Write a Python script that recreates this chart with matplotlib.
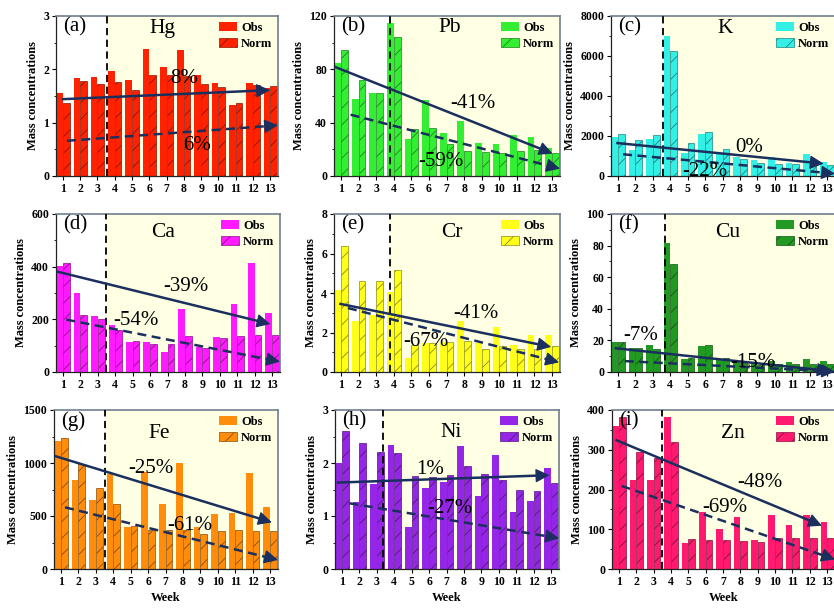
import numpy as np
import matplotlib
matplotlib.use("Agg")
import matplotlib.pyplot as plt
from matplotlib.patches import Patch
from matplotlib.ticker import MultipleLocator, AutoMinorLocator
from matplotlib.colors import to_rgb

plt.rcParams["font.family"] = ["Liberation Serif", "DejaVu Serif"]
plt.rcParams["hatch.linewidth"] = 0.6

weeks = np.arange(1, 14)

# Weekly mass concentrations: observed and normalised
hg_obs = [1.55, 1.84, 1.86, 1.97, 1.80, 2.38, 2.04, 2.36, 1.89, 1.74, 1.33, 1.75, 1.65]
hg_norm = [1.36, 1.78, 1.72, 1.77, 1.61, 1.90, 1.89, 1.87, 1.72, 1.66, 1.36, 1.70, 1.69]
pb_obs = [85, 58, 62, 114.5, 28, 57, 32, 41, 25, 24, 31, 29, 21]
pb_norm = [94.5, 72, 62.4, 104.5, 35, 36, 24, 19, 18, 17, 19, 19.5, 17.5]
k_obs = [1937, 1286, 1854, 6998, 1150, 2121, 1120, 950, 818, 950, 651, 1086, 701]
k_norm = [2121, 1787, 2071, 6230, 1660, 2221, 1336, 868, 668, 618, 618, 701, 568]
ca_obs = [401, 300, 214, 180, 113, 115, 77, 239, 94, 133, 258, 415, 224]
ca_norm = [414, 216, 203, 161, 118, 108, 108, 138, 92, 128, 135, 140, 140]
cr_obs = [4.17, 2.56, 2.90, 4.03, 0.73, 1.47, 1.52, 2.56, 1.47, 2.28, 1.37, 1.87, 1.87]
cr_norm = [6.40, 4.62, 4.62, 5.15, 1.38, 1.47, 1.52, 1.55, 1.18, 1.33, 1.18, 1.18, 1.33]
cu_obs = [19.3, 14.9, 16.8, 81.8, 8.4, 16.6, 7.8, 6.7, 5.7, 7.1, 6.3, 8.4, 6.7]
cu_norm = [19.3, 14.9, 14.3, 68.6, 9.0, 17.2, 8.8, 5.7, 4.6, 5.2, 5.2, 5.2, 5.2]
fe_obs = [1207, 840, 651, 896, 399, 918, 610, 997, 393, 516, 525, 909, 588]
fe_norm = [1239, 990, 767, 613, 409, 368, 368, 368, 327, 358, 365, 362, 358]
ni_obs = [2.00, 1.27, 1.60, 2.34, 0.80, 1.52, 1.64, 2.33, 1.38, 2.16, 1.08, 1.29, 1.90]
ni_norm = [2.60, 2.38, 2.20, 2.19, 1.76, 1.74, 1.77, 1.94, 1.80, 1.67, 1.50, 1.48, 1.62]
zn_obs = [360, 224, 224, 383, 65, 144, 101, 132, 73, 137, 110, 136, 117]
zn_norm = [382, 295, 278, 320, 76, 73, 72, 71, 69, 77, 79, 79, 79]

elements = ["Hg", "Pb", "K", "Ca", "Cr", "Cu", "Fe", "Ni", "Zn"]
panel_tags = ["(a)", "(b)", "(c)", "(d)", "(e)", "(f)", "(g)", "(h)", "(i)"]
obs_series = [hg_obs, pb_obs, k_obs, ca_obs, cr_obs, cu_obs, fe_obs, ni_obs, zn_obs]
norm_series = [hg_norm, pb_norm, k_norm, ca_norm, cr_norm, cu_norm, fe_norm, ni_norm, zn_norm]

# Trend arrows: ((week_start, value_start), (week_end, value_end))
obs_trends = [
    ((0.94, 1.44), (12.99, 1.61)),
    ((0.62, 82), (13.03, 16.8)),
    ((0.90, 1653), (12.8, 618)),
    ((0.62, 382), (12.9, 182)),
    ((0.90, 3.46), (12.95, 1.27)),
    ((0.80, 15.1), (13.2, 0.6)),
    ((0.65, 1066), (13.1, 440)),
    ((0.70, 1.63), (12.9, 1.77)),
    ((0.80, 325), (12.7, 109)),
]
norm_trends = [
    ((1.23, 0.66), (13.45, 0.95)),
    ((1.54, 46), (13.45, 5.5)),
    ((1.29, 1086), (13.45, 117)),
    ((1.19, 199), (13.45, 39)),
    ((1.39, 3.24), (13.4, 0.49)),
    ((1.39, 6.9), (13.45, 0.3)),
    ((1.23, 582), (13.45, 85)),
    ((1.43, 1.24), (13.45, 0.58)),
    ((1.15, 209), (13.45, 24)),
]
obs_change = ["8%", "-41%", "0%", "-39%", "-41%", "-7%", "-25%", "1%", "-48%"]
norm_change = ["6%", "-59%", "-22%", "-54%", "-67%", "-15%", "-61%", "-27%", "-69%"]

# Layout and styling
obs_label_pos = [(8.0, 1.82), (8.5, 54), (8.5, 1450), (8.06, 323), (8.64, 2.94),
                 (2.32, 22.9), (6.16, 950), (6.07, 1.87), (9.1, 217)]
norm_label_pos = [(8.75, 0.58), (6.7, 10.5), (6.0, 200), (5.16, 196), (5.84, 1.55),
                  (8.74, 5.7), (8.4, 415), (7.19, 1.14), (7.1, 155)]
split_week = [3.58, 3.77, 3.61, 3.48, 3.8, 3.67, 3.5, 3.38, 3.48]
y_max = [3, 120, 8000, 600, 8, 100, 1500, 3, 400]
y_step = [1, 40, 2000, 200, 2, 20, 500, 1, 100]
name_y = [0.92, 0.925, 0.92, 0.88, 0.88, 0.88, 0.855, 0.86, 0.855]
name_x = [0.48, 0.51, 0.51, 0.477, 0.52, 0.52, 0.47, 0.52, 0.54]
colors = ["#FF2200", "#33EE33", "#33F0E6", "#FF1AFF", "#FFFF1A",
          "#229922", "#FF8C0A", "#9526E8", "#FF1A70"]

W, H = 834, 608
col_left = [[56, 334, 611], [56, 334, 611], [54, 335, 612]]
col_width = [[222, 226, 224], [224, 226, 224], [224, 224, 223]]
row_top = [16, 214, 410]
row_h = [160, 158, 159]

arrow_color = "#1B2F5E"
shade_color = "#FFFFE3"
spine_color = "#6F7E8E"


def darker(c, f=0.55):
    r, g, b = to_rgb(c)
    return (r * f, g * f, b * f)


def trend_arrow(ax, start, end, dashed):
    (x0, y0), (x1, y1) = start, end
    ls = (0, (3.6, 2.2)) if dashed else "-"
    xm = x1 - 0.04 * (x1 - x0)
    ym = y1 - 0.04 * (y1 - y0)
    ax.plot([x0, xm], [y0, ym], color=arrow_color, lw=1.8, ls=ls,
            solid_capstyle="butt", dash_capstyle="butt", zorder=5, clip_on=False)
    ax.annotate("", xy=(x1, y1), xytext=(xm - 0.02 * (x1 - x0), ym - 0.02 * (y1 - y0)),
                arrowprops=dict(arrowstyle="-|>,head_length=0.6,head_width=0.3",
                                color=arrow_color, lw=1.0, mutation_scale=14,
                                shrinkA=0, shrinkB=0),
                zorder=6, annotation_clip=False)


fig = plt.figure(figsize=(W / 100, H / 100), dpi=100)
bw = 0.385

for i in range(9):
    r, c = divmod(i, 3)
    left = col_left[r][c] / W
    bottom = 1 - (row_top[r] + row_h[r]) / H
    ax = fig.add_axes([left, bottom, col_width[r][c] / W, row_h[r] / H])
    col = colors[i]
    dark = darker(col)

    ax.set_xlim(0.6, 13.45)
    ax.set_ylim(0, y_max[i])
    ax.axvspan(split_week[i], 13.45, color=shade_color, zorder=0, lw=0)
    ax.axvline(split_week[i], color="black", ls=(0, (4, 2.5)), lw=1.3, zorder=4)

    ax.bar(weeks - bw / 2, obs_series[i], width=bw, color=col, lw=0, zorder=2)
    ax.bar(weeks + bw / 2, norm_series[i], width=bw, color=col, edgecolor=dark,
           hatch="//", lw=0.5, zorder=2)

    trend_arrow(ax, *obs_trends[i], dashed=False)
    trend_arrow(ax, *norm_trends[i], dashed=True)

    ax.text(*obs_label_pos[i], obs_change[i], ha="center", va="center",
            fontsize=15, zorder=7)
    ax.text(*norm_label_pos[i], norm_change[i], ha="center", va="center",
            fontsize=15, zorder=7)

    ax.text(0.03, 0.93, panel_tags[i], transform=ax.transAxes, fontsize=15,
            ha="left", va="center", zorder=7)
    ax.text(name_x[i], name_y[i], elements[i], transform=ax.transAxes,
            fontsize=15.5, ha="center", va="center", zorder=7)

    handles = [Patch(facecolor=col, edgecolor="none"),
               Patch(facecolor=col, edgecolor=dark, hatch="//", lw=0.5)]
    ax.legend(handles, ["Obs", "Norm"], loc="upper right", frameon=False,
              prop=dict(weight="bold", size=9), handlelength=1.5,
              handleheight=0.8, handletextpad=0.3, labelspacing=0.3,
              borderaxespad=0.25, borderpad=0.2)

    ax.set_xticks(weeks)
    ax.yaxis.set_major_locator(MultipleLocator(y_step[i]))
    ax.yaxis.set_minor_locator(AutoMinorLocator(2))
    ax.tick_params(axis="both", which="major", direction="out", length=3,
                   width=0.8, labelsize=8.5, pad=2)
    ax.tick_params(axis="y", which="minor", direction="out", length=1.8, width=0.6)
    for lab in ax.get_xticklabels() + ax.get_yticklabels():
        lab.set_fontweight("bold")

    for s in ("top", "right"):
        ax.spines[s].set_color(spine_color)
        ax.spines[s].set_linewidth(1.2)
    for s in ("left", "bottom"):
        ax.spines[s].set_color("#222222")
        ax.spines[s].set_linewidth(0.9)

    ax.set_ylabel("Mass concentrations", fontsize=9, fontweight="bold", labelpad=3)
    if r == 2:
        ax.set_xlabel("Week", fontsize=9, fontweight="bold", labelpad=3)

fig.savefig("out.png", dpi=100)
